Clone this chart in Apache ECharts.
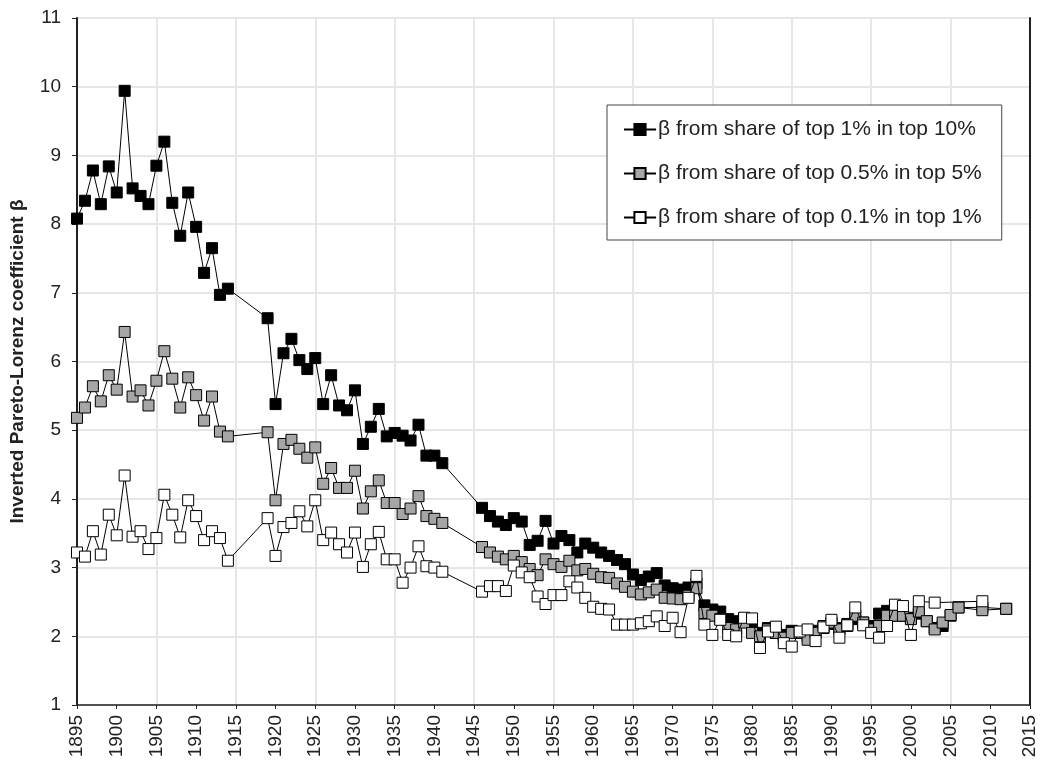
<!DOCTYPE html>
<html>
<head>
<meta charset="utf-8">
<script src="https://cdn.jsdelivr.net/npm/echarts@6/dist/echarts.min.js"></script>
<style>
html,body{margin:0;padding:0;background:#fff;}
#chart{width:1042px;height:767px;}
</style>
</head>
<body>
<div id="chart"></div>
<script>
var years = [1895,1896,1897,1898,1899,1900,1901,1902,1903,1904,1905,1906,1907,1908,1909,1910,1911,1912,1913,1914,
1919,1920,1921,1922,1923,1924,1925,1926,1927,1928,1929,1930,1931,1932,1933,1934,1935,1936,1937,1938,1939,1940,1941,
1946,1947,1948,1949,1950,1951,1952,1953,1954,1955,1956,1957,1958,1959,1960,1961,1962,1963,1964,1965,1966,1967,1968,1969,
1970,1971,1972,1973,1974,1975,1976,1977,1978,1979,1980,1981,1982,1983,1984,1985,1986,1987,1988,1989,1990,1991,1992,1993,
1994,1995,1996,1997,1998,1999,2000,2001,2002,2003,2004,2005,2006,2009,2012];

var betaTop1in10 = [8.08,8.34,8.78,8.29,8.84,8.46,9.94,8.52,8.41,8.29,8.85,9.20,8.31,7.83,8.46,7.96,7.29,7.65,6.97,7.06,
6.63,5.38,6.12,6.33,6.02,5.89,6.05,5.38,5.80,5.36,5.29,5.58,4.80,5.05,5.31,4.91,4.96,4.92,4.85,5.08,4.63,4.63,4.52,
3.87,3.75,3.67,3.62,3.72,3.67,3.33,3.39,3.68,3.35,3.46,3.40,3.22,3.35,3.29,3.22,3.17,3.11,3.05,2.90,2.82,2.87,2.92,2.74,
2.70,2.68,2.71,2.77,2.45,2.39,2.36,2.25,2.22,2.25,2.10,2.05,2.12,2.05,2.02,2.08,2.05,2.00,2.08,2.12,2.18,2.12,2.18,2.25,
2.20,2.15,2.33,2.37,2.30,2.30,2.27,2.33,2.22,2.12,2.15,2.30,2.42,2.42,2.40];

var betaTop05in5 = [5.18,5.33,5.64,5.42,5.80,5.59,6.43,5.49,5.58,5.36,5.72,6.15,5.75,5.33,5.77,5.51,5.14,5.49,4.98,4.91,
4.97,3.98,4.80,4.86,4.73,4.60,4.75,4.22,4.45,4.16,4.16,4.41,3.86,4.11,4.27,3.94,3.94,3.78,3.86,4.04,3.75,3.71,3.65,
3.30,3.22,3.16,3.12,3.17,3.08,2.98,2.89,3.12,3.05,3.01,3.10,2.96,2.98,2.91,2.86,2.85,2.77,2.72,2.65,2.61,2.64,2.68,2.56,
2.55,2.54,2.59,2.70,2.34,2.30,2.25,2.12,2.10,2.20,2.05,2.00,2.10,2.05,1.98,2.05,2.05,1.95,2.05,2.15,2.20,2.10,2.15,2.30,
2.20,2.10,2.15,2.30,2.30,2.30,2.25,2.36,2.22,2.10,2.20,2.31,2.42,2.38,2.40];

var betaTop01in1 = [3.22,3.16,3.53,3.19,3.77,3.47,4.34,3.45,3.53,3.27,3.43,4.06,3.77,3.44,3.98,3.75,3.40,3.53,3.43,3.10,
3.72,3.17,3.59,3.65,3.82,3.60,3.98,3.40,3.51,3.34,3.22,3.51,3.01,3.34,3.52,3.12,3.12,2.78,3.00,3.31,3.02,3.00,2.94,
2.65,2.73,2.73,2.66,3.03,2.93,2.86,2.58,2.47,2.60,2.60,2.80,2.71,2.56,2.43,2.40,2.39,2.17,2.17,2.17,2.19,2.22,2.29,2.15,
2.27,2.06,2.56,2.88,2.17,2.02,2.24,2.02,2.00,2.27,2.26,1.83,2.07,2.14,1.90,1.85,2.07,2.10,1.93,2.13,2.24,1.98,2.16,2.42,
2.16,2.05,1.98,2.15,2.46,2.44,2.02,2.51,null,2.49,null,null,null,2.51,null];

var seriesNames = ['\u03b2 from share of top 1% in top 10%','\u03b2 from share of top 0.5% in top 5%','\u03b2 from share of top 0.1% in top 1%'];
var yTitle = 'Inverted Pareto-Lorenz coefficient \u03b2';

function pairs(vals){ return years.map(function(y,i){ return [y, vals[i]]; }); }

var FONT = 'Liberation Sans, Arial, sans-serif';
var chart = echarts.init(document.getElementById('chart'), null, {renderer:'canvas'});

function mkSeries(name, vals, fill, z){
  return {
    name: name, type: 'line', data: pairs(vals), xAxisIndex: 0, yAxisIndex: 0,
    connectNulls: true, symbol: 'rect', symbolSize: 11, z: z,
    lineStyle: {color: '#000', width: 1},
    itemStyle: {color: fill, borderColor: '#000', borderWidth: 1},
    emphasis: {disabled: true}, animation: false
  };
}

chart.setOption({
  animation: false,
  backgroundColor: '#fff',
  textStyle: {fontFamily: FONT},
  grid: {left: 76, right: 12, top: 18, bottom: 62, containLabel: false},
  legend: {
    orient: 'vertical', left: 607, top: 105,
    padding: [14, 20, 12, 16], itemGap: 23, itemWidth: 32, itemHeight: 14,
    borderColor: '#444', borderWidth: 1, backgroundColor: '#fff',
    textStyle: {fontFamily: FONT, fontSize: 21, color: '#222', padding: [0,0,0,-3]},
    data: seriesNames
  },
  xAxis: [{
    type: 'value', min: 1895, max: 2015, interval: 5,
    axisLine: {show: true, lineStyle: {color: '#222', width: 1.5}},
    axisTick: {show: true, length: 4, lineStyle: {color: '#222'}},
    axisLabel: {rotate: 90, fontSize: 19, color: '#222', fontFamily: FONT, margin: 10, formatter: function(v){return String(v);}},
    splitLine: {show: false}
  },{
    type: 'value', min: 1895, max: 2015, interval: 10, position: 'bottom',
    axisLine: {show: false}, axisTick: {show: false}, axisLabel: {show: false},
    splitLine: {show: true, lineStyle: {color: '#e6e6e6', width: 2}}
  }],
  yAxis: [{
    type: 'value', min: 1, max: 11, interval: 1,
    name: yTitle, nameLocation: 'middle', nameGap: 50, nameRotate: 90,
    nameTextStyle: {fontFamily: FONT, fontSize: 19, fontWeight: 'bold', color: '#222'},
    axisLine: {show: true, lineStyle: {color: '#222', width: 2}},
    axisTick: {show: true, length: 5, lineStyle: {color: '#222'}},
    axisLabel: {fontSize: 19, color: '#222', fontFamily: FONT, margin: 16},
    splitLine: {show: true, lineStyle: {color: '#e6e6e6', width: 2}}
  },{
    type: 'value', min: 1, max: 11, interval: 1, position: 'right',
    axisLine: {show: true, onZero: false, lineStyle: {color: '#222', width: 2}},
    axisTick: {show: false}, axisLabel: {show: false}, splitLine: {show: false}
  }],
  series: [
    mkSeries(seriesNames[0], betaTop1in10, '#000000', 3),
    mkSeries(seriesNames[1], betaTop05in5, '#a6a6a6', 4),
    mkSeries(seriesNames[2], betaTop01in1, '#ffffff', 5)
  ]
});
</script>
</body>
</html>
